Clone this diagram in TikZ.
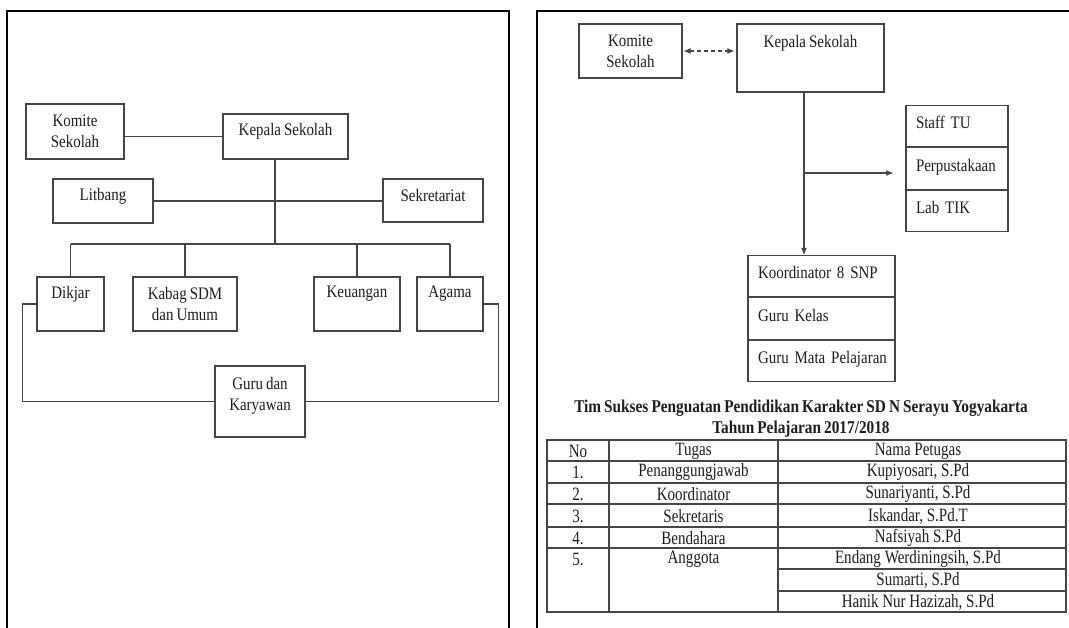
\documentclass[tikz,border=0pt]{standalone}
\usepackage{fontspec}
\setmainfont{Liberation Serif}[FakeStretch=0.85, WordSpace=0.8]
\newfontfamily\tabfont{Liberation Serif}[FakeStretch=0.8]
\usepackage{tikz}
\usetikzlibrary{positioning,calc,arrows.meta}

\definecolor{boxgray}{HTML}{454545}
\definecolor{txt}{HTML}{1E1E1E}
\newcommand{\chartfont}{\fontsize{17.6}{21}\selectfont}

\begin{document}
\begin{tikzpicture}[x=1pt, y=-1pt, >={Latex[length=7pt,width=6pt]},
    box/.style={draw=boxgray, line width=1.1pt, inner sep=0pt, align=center, font=\chartfont, text=txt},
    lbl/.style={inner sep=0pt, align=center, font=\chartfont, text=txt},
    cell/.style={draw=boxgray, line width=1.1pt, text width=#1, inner xsep=10pt, inner ysep=0pt,
                 minimum height=41.3pt, text height=11pt, text depth=6pt, align=left, font=\chartfont, text=txt},
    tab/.style={inner sep=0pt, font=\tabfont\fontsize{18.8}{21}\selectfont, text=txt},
    link/.style={draw=boxgray, line width=1.1pt},
    rule/.style={draw=boxgray, line width=1.4pt},
    frame/.style={line width=1.6pt, black}]
    \useasboundingbox (0,0) rectangle (1069,628);

    % the two panels
    \draw[frame] (7,628) -- (7,11) -- (509,11) -- (509,628);
    \draw[frame] (537,628) |- (1069,11);

    % left chart
    \node [box, minimum width=98, minimum height=55] (komiteL) at (75,131.5) {Komite\\Sekolah};
    \node [box, minimum width=125, minimum height=45, label={[lbl, yshift=5]center:Kepala Sekolah}] (kepalaL) at (285.5,136.5) {};
    \node [box, minimum width=100, minimum height=44, label={[lbl, yshift=5]center:Litbang}] (litbang) at (103,201) {};
    \node [box, minimum width=100, minimum height=43, label={[lbl, yshift=5]center:Sekretariat}] (sekretariat) at (433,200.5) {};
    \node [box, minimum width=67, minimum height=54, label={[lbl, yshift=10]center:Dikjar}] (dikjar) at (70.5,304) {};
    \node [box, minimum width=104, minimum height=54] (kabag) at (185,304) {Kabag SDM\\dan Umum};
    \node [box, minimum width=86, minimum height=54, label={[lbl, yshift=10]center:Keuangan}] (keuangan) at (357,304) {};
    \node [box, minimum width=66, minimum height=54, label={[lbl, yshift=10]center:Agama}] (agama) at (450,304) {};
    \node [box, minimum width=90, minimum height=71, label={[lbl, yshift=6]center:Guru dan\\Karyawan}] (guru) at (260,401.5) {};
    \coordinate (hub) at (275,244);

    \draw[link] (komiteL.east |- kepalaL.west) -- (kepalaL.west);
    \draw[link] (kepalaL.south -| hub) -- (hub);
    \draw[link] (litbang.east) -- (litbang.east -| sekretariat.west);
    \draw[link] (dikjar.north |- hub) -- (agama.north |- hub);
    \foreach \n in {dikjar, kabag, keuangan, agama}
        \draw[link] (\n.north |- hub) -- (\n.north);
    \draw[link] (dikjar.west) -- ++(-14,0) |- (guru.west);
    \draw[link] (agama.east) -- ++(15,0) |- (guru.east);

    % right chart
    \node [box, minimum width=103, minimum height=54] (komiteR) at (630.5,51) {Komite\\Sekolah};
    \node [box, minimum width=147, minimum height=68, label={[lbl, yshift=15]center:Kepala Sekolah}] (kepalaR) at (810.5,58) {};
    \node [cell=82, anchor=north] (staff) at (957,105) {Staff TU};
    \node [cell=82, below=0pt of staff] (perpus) {Perpustakaan};
    \node [cell=82, below=0pt of perpus] (labtik) {Lab TIK};
    \node [cell=127, anchor=north] (koord) at (821.5,255) {Koordinator 8 SNP};
    \node [cell=127, below=0pt of koord] (gurukelas) {Guru Kelas};
    \node [cell=127, below=0pt of gurukelas] (gurumapel) {\mbox{Guru Mata Pelajaran}};
    \coordinate (branch) at (804,173);

    \draw[link, dash pattern=on 4pt off 3pt, <->, shorten <=1pt, shorten >=2pt]
        (komiteR.east) -- (komiteR.east -| kepalaR.west);
    \draw[link, ->] (kepalaR.south -| branch) -- (koord.north -| branch);
    \draw[link, ->] (branch) -- ([xshift=-12pt]branch -| perpus.west);

    % table
    \node [lbl, font=\fontsize{18}{21}\selectfont\bfseries] (judul) at (801,418.5)
        {Tim Sukses Penguatan Pendidikan Karakter SD N Serayu Yogyakarta\\Tahun Pelajaran 2017/2018};
    \draw[rule] (547,440) rectangle (1066,612);
    \foreach \y in {461,483,504,527,548}
        \draw[rule] (547,\y) -- (1066,\y);
    \foreach \y in {569,591}
        \draw[rule] (778,\y) -- (1066,\y);
    \foreach \x in {609,778}
        \draw[rule] (\x,440) -- (\x,612);
    \foreach \y/\no/\tugas/\nama [count=\r] in {451/No/Tugas/Nama Petugas,
            472.5/1./Penanggungjawab/{Kupiyosari, S.Pd},
            494/2./Koordinator/{Sunariyanti, S.Pd},
            516/3./Sekretaris/{Iskandar, S.Pd.T},
            538/4./Bendahara/Nafsiyah S.Pd,
            559/5./Anggota/{Endang Werdiningsih, S.Pd}} {
        \node [tab] (no-\r) at (578,\y) {\no};
        \node [tab] (tugas-\r) at (693.5,\y) {\tugas};
        \node [tab] (nama-\r) at (918,\y) {\nama};
    }
    \node [tab] (nama-7) at (918,580.5) {Sumarti, S.Pd};
    \node [tab] (nama-8) at (918,602) {Hanik Nur Hazizah, S.Pd};
\end{tikzpicture}
\end{document}
